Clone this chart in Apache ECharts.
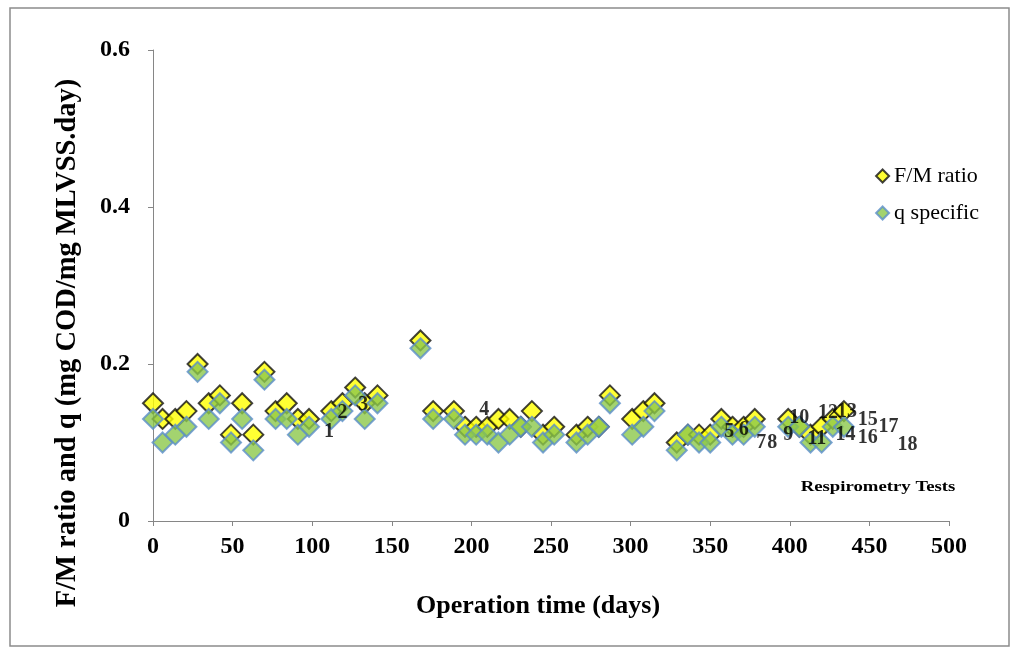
<!DOCTYPE html>
<html>
<head>
<meta charset="utf-8">
<script src="https://cdn.jsdelivr.net/npm/echarts@6/dist/echarts.min.js"></script>
<style>
  html, body { margin: 0; padding: 0; background: #fff; }
  #chart { width: 1016px; height: 648px; }
</style>
</head>
<body>
<div id="chart"></div>
<script>
// Operation day and F/M ratio (mg COD/mg MLVSS.day)
const fmDays = [0, 6, 14, 21, 28, 35, 42, 49, 56, 63, 70, 77, 84, 91, 98, 112, 119, 127, 133, 141,
  168, 176, 189, 196, 203, 210, 217, 224, 231, 238, 245, 252, 266, 273, 280, 287, 301, 308, 315,
  329, 336, 343, 350, 357, 364, 371, 378, 399, 406, 413, 420, 427, 434];
const fmValues = [0.15, 0.13, 0.13, 0.14, 0.20, 0.15, 0.16, 0.11, 0.15, 0.11, 0.19, 0.14, 0.15, 0.13, 0.13, 0.14, 0.15, 0.17, 0.15, 0.16,
  0.23, 0.14, 0.14, 0.12, 0.12, 0.12, 0.13, 0.13, 0.12, 0.14, 0.11, 0.12, 0.11, 0.12, 0.12, 0.16, 0.13, 0.14, 0.15,
  0.10, 0.11, 0.11, 0.11, 0.13, 0.12, 0.12, 0.13, 0.13, 0.12, 0.11, 0.12, 0.13, 0.14];

// Operation day and specific substrate utilisation rate q
const qDays = fmDays;
const qValues = [0.13, 0.10, 0.11, 0.12, 0.19, 0.13, 0.15, 0.10, 0.13, 0.09, 0.18, 0.13, 0.13, 0.11, 0.12, 0.13, 0.14, 0.16, 0.13, 0.15,
  0.22, 0.13, 0.13, 0.11, 0.11, 0.11, 0.10, 0.11, 0.12, 0.12, 0.10, 0.11, 0.10, 0.11, 0.12, 0.15, 0.11, 0.12, 0.14,
  0.09, 0.11, 0.10, 0.10, 0.12, 0.11, 0.11, 0.12, 0.12, 0.12, 0.10, 0.10, 0.12, 0.12];

// Respirometry test numbers and where their tags sit
const testNumbers = ['1', '2', '3', '4', '5', '6', '7', '8', '9', '10', '11', '12', '13', '14', '15', '16', '17', '18'];
const testDays = [110.6, 119, 132, 208, 362, 371, 382, 389, 399, 406, 417, 424, 436, 435, 449, 449, 462, 474];
const testLevels = [0.113, 0.138, 0.148, 0.141, 0.113, 0.116, 0.099, 0.099, 0.110, 0.131, 0.105, 0.138, 0.139, 0.110, 0.129, 0.106, 0.120, 0.097];

const xTicks = { min: 0, max: 500, interval: 50 };
const yTicks = { min: 0, max: 0.6, interval: 0.2 };

const serif = '"Liberation Serif", "DejaVu Serif", serif';
const axisGray = '#868686';

const pairs = (xs, ys) => xs.map((x, i) => [x, ys[i]]);

const chart = echarts.init(document.getElementById('chart'), null, { renderer: 'canvas' });
chart.setOption({
  backgroundColor: '#ffffff',
  animation: false,
  grid: { left: 153, right: 67, top: 50, bottom: 127, containLabel: false },
  xAxis: {
    type: 'value',
    min: xTicks.min, max: xTicks.max, interval: xTicks.interval,
    axisLine: { lineStyle: { color: axisGray, width: 1 } },
    axisTick: { show: true, length: 5, lineStyle: { color: axisGray } },
    axisLabel: { fontFamily: serif, fontWeight: 'bold', fontSize: 24, color: '#000', margin: 14 },
    splitLine: { show: false }
  },
  yAxis: {
    type: 'value',
    min: yTicks.min, max: yTicks.max, interval: yTicks.interval,
    axisLine: { show: true, lineStyle: { color: axisGray, width: 1 } },
    axisTick: { show: true, length: 5, lineStyle: { color: axisGray } },
    axisLabel: { fontFamily: serif, fontWeight: 'bold', fontSize: 24, color: '#000', margin: 23 },
    splitLine: { show: false }
  },
  legend: {
    orient: 'vertical',
    right: 32,
    top: 160,
    itemWidth: 13,
    itemHeight: 13,
    itemGap: 15,
    textStyle: { fontFamily: serif, fontSize: 22, color: '#000' },
    data: ['F/M ratio', 'q specific']
  },
  series: [
    {
      name: 'F/M ratio',
      type: 'scatter',
      symbol: 'diamond',
      symbolSize: 20,
      itemStyle: { color: '#ffff00', borderColor: '#111111', borderWidth: 2 },
      data: pairs(fmDays, fmValues),
      z: 2
    },
    {
      name: 'q specific',
      type: 'scatter',
      symbol: 'diamond',
      symbolSize: 20,
      itemStyle: { color: '#8cc84b', borderColor: '#5b8fc9', borderWidth: 2 },
      data: pairs(qDays, qValues),
      z: 3
    },
    {
      name: 'tests',
      type: 'scatter',
      symbol: 'circle',
      symbolSize: 1,
      itemStyle: { color: 'rgba(0,0,0,0)' },
      silent: true,
      label: {
        show: true,
        position: 'inside',
        formatter: p => p.value[2],
        fontFamily: serif,
        fontWeight: 'bold',
        fontSize: 20,
        color: '#000'
      },
      data: testDays.map((d, i) => [d, testLevels[i], testNumbers[i]]),
      z: 5
    }
  ],
  graphic: [
    {
      type: 'rect',
      shape: { x: 10, y: 8, width: 999, height: 638 },
      style: { fill: 'none', stroke: '#8c8c8c', lineWidth: 1.5 },
      silent: true,
      z: 0
    },
    {
      // x-axis title
      type: 'text',
      x: 538, y: 606,
      style: {
        text: 'Operation time (days)',
        font: 'bold 26px ' + serif,
        fill: '#000',
        textAlign: 'center',
        textVerticalAlign: 'middle'
      },
      silent: true
    },
    {
      // y-axis title, reading bottom to top
      type: 'text',
      x: 68, y: 343,
      rotation: Math.PI / 2,
      style: {
        text: 'F/M ratio and q (mg COD/mg MLVSS.day)',
        font: 'bold 28.5px ' + serif,
        fill: '#000',
        textAlign: 'center',
        textVerticalAlign: 'middle'
      },
      silent: true
    },
    {
      type: 'text',
      x: 878, y: 487,
      scaleX: 1.25,
      style: {
        text: 'Respirometry Tests',
        font: 'bold 15px ' + serif,
        fill: '#000',
        textAlign: 'center',
        textVerticalAlign: 'middle'
      },
      silent: true
    }
  ]
});
</script>
</body>
</html>
